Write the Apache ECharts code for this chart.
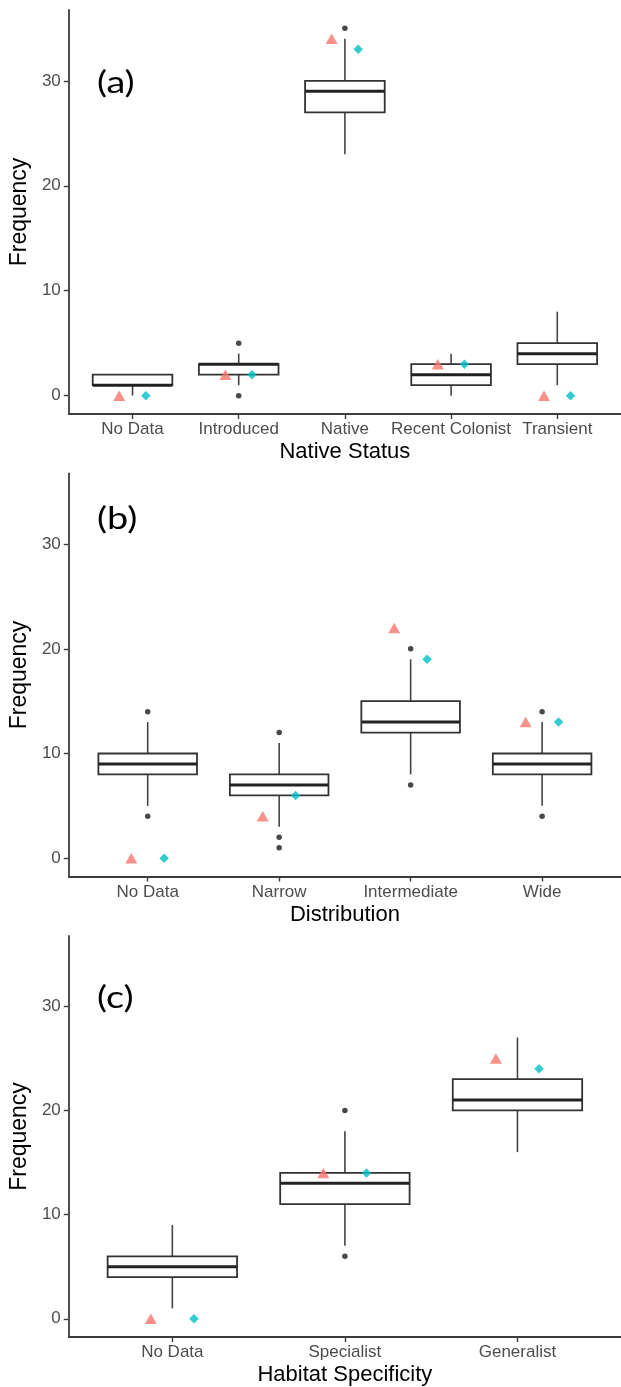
<!DOCTYPE html>
<html><head><meta charset="utf-8">
<script src="https://cdn.jsdelivr.net/npm/echarts@6/dist/echarts.min.js"></script>
<style>html,body{margin:0;padding:0;background:#fff}#c{width:621px;height:1387px}</style>
</head><body><div id="c"></div>
<script>
// Panel (a) Native Status
const catsA = ['No Data', 'Introduced', 'Native', 'Recent Colonist', 'Transient'];
const boxA = [[0, 1, 1, 2, 2], [1, 2, 3, 3, 4], [23, 27, 29, 30, 34], [0, 1, 2, 3, 4], [1, 3, 4, 5, 8]]; // min,q1,med,q3,max
const outA = [[], [5, 0], [35], [], []];
const triA = [0, 2, 34, 3, 0];
const diaA = [0, 2, 33, 3, 0];

// Panel (b) Distribution
const catsB = ['No Data', 'Narrow', 'Intermediate', 'Wide'];
const boxB = [[5, 8, 9, 10, 13], [3, 6, 7, 8, 11], [8, 12, 13, 15, 19], [5, 8, 9, 10, 13]];
const outB = [[14, 4], [12, 2, 1], [20, 7], [14, 4]];
const triB = [0, 4, 22, 13];
const diaB = [0, 6, 19, 13];

// Panel (c) Habitat Specificity
const catsC = ['No Data', 'Specialist', 'Generalist'];
const boxC = [[1, 4, 5, 6, 9], [7, 11, 13, 14, 18], [16, 20, 21, 23, 27]];
const outC = [[], [20, 6], []];
const triC = [0, 14, 25];
const diaC = [0, 14, 24];

const yTicks = [0, 10, 20, 30];
const xTitles = ['Native Status', 'Distribution', 'Habitat Specificity'];
const panelLabels = ['(a)', '(b)', '(c)'];

const panels = [
  {cats: catsA, box: boxA, out: outA, tri: triA, dia: diaA},
  {cats: catsB, box: boxB, out: outB, tri: triB, dia: diaB},
  {cats: catsC, box: boxC, out: outC, tri: triC, dia: diaC}
];

const FONT = '"Liberation Sans", Arial, sans-serif';
const AXIS_COLOR = '#3c3c3c';
const gridPos = [
  {left: 64, top: 10, width: 563.5, height: 404},
  {left: 64, top: 473.5, width: 563.5, height: 403},
  {left: 64, top: 936, width: 563.5, height: 401}
];
const labelPos = [82.5, 519, 998];
const DODGE = 0.125;

function boxRender(params, api) {
  const x = api.value(0);
  const lo = api.coord([x, api.value(1)]);
  const q1 = api.coord([x, api.value(2)]);
  const med = api.coord([x, api.value(3)]);
  const q3 = api.coord([x, api.value(4)]);
  const hi = api.coord([x, api.value(5)]);
  const hw = api.size([0.75, 0])[0] / 2;
  const cx = q1[0];
  return {type: 'group', children: [
    {type: 'line', shape: {x1: cx, y1: lo[1], x2: cx, y2: q1[1]}, style: {stroke: '#444', lineWidth: 1.6}},
    {type: 'line', shape: {x1: cx, y1: q3[1], x2: cx, y2: hi[1]}, style: {stroke: '#444', lineWidth: 1.6}},
    {type: 'rect', shape: {x: cx - hw, y: q3[1], width: 2 * hw, height: q1[1] - q3[1]}, style: {fill: '#fff', stroke: '#333', lineWidth: 1.8}},
    {type: 'line', shape: {x1: cx - hw, y1: med[1], x2: cx + hw, y2: med[1]}, style: {stroke: '#222', lineWidth: 3}}
  ]};
}

const grid = [], xAxis = [], yAxis = [], series = [], graphic = [];
panels.forEach((p, k) => {
  const n = p.cats.length;
  const idx = p.cats.map((c, i) => i + 1);
  grid.push(Object.assign({containLabel: false}, gridPos[k]));
  xAxis.push({
    type: 'value', gridIndex: k, min: 0.4, max: n + 0.6,
    axisLine: {show: true, onZero: false, lineStyle: {color: AXIS_COLOR, width: 1.8}},
    axisTick: {show: true, customValues: idx, length: 5, lineStyle: {color: AXIS_COLOR, width: 1.4}},
    axisLabel: {customValues: idx, formatter: v => p.cats[Math.round(v) - 1] || '', fontSize: 17, color: '#4D4D4D', fontFamily: FONT, margin: 7},
    splitLine: {show: false},
    name: xTitles[k], nameLocation: 'middle', nameGap: 27,
    nameTextStyle: {fontSize: 22, color: '#000', fontFamily: FONT}
  });
  yAxis.push({
    type: 'value', gridIndex: k, min: -1.75, max: 36.75,
    axisLine: {show: true, onZero: false, lineStyle: {color: AXIS_COLOR, width: 1.8}},
    axisTick: {show: true, customValues: yTicks, length: 5, lineStyle: {color: AXIS_COLOR, width: 1.4}},
    axisLabel: {customValues: yTicks, fontSize: 17, color: '#4D4D4D', fontFamily: FONT, margin: 8},
    splitLine: {show: false},
    name: 'Frequency', nameLocation: 'middle', nameGap: 28,
    nameTextStyle: {fontSize: 23, color: '#000', fontFamily: FONT}
  });
  series.push({
    type: 'custom', xAxisIndex: k, yAxisIndex: k,
    renderItem: boxRender,
    encode: {x: 0, y: [1, 2, 3, 4, 5]},
    data: p.box.map((b, i) => [i + 1].concat(b)),
    z: 2
  });
  const outPts = [];
  p.out.forEach((arr, i) => arr.forEach(v => outPts.push([i + 1, v])));
  series.push({
    type: 'scatter', xAxisIndex: k, yAxisIndex: k, symbol: 'circle', symbolSize: 5.5,
    itemStyle: {color: '#1a1a1a'}, data: outPts, z: 3
  });
  series.push({
    type: 'scatter', xAxisIndex: k, yAxisIndex: k, symbol: 'triangle', symbolSize: [12, 10.5],
    itemStyle: {color: '#F8766D'}, data: p.tri.map((v, i) => [i + 1 - DODGE, v]), z: 4
  });
  series.push({
    type: 'scatter', xAxisIndex: k, yAxisIndex: k, symbol: 'diamond', symbolSize: [9.5, 9.5],
    itemStyle: {color: '#00BFC4'}, data: p.dia.map((v, i) => [i + 1 + DODGE, v]), z: 4
  });
  graphic.push({
    type: 'text', x: 97, y: labelPos[k], scaleX: 1.22,
    style: {text: panelLabels[k], font: '31px Lato, "Open Sans", sans-serif', fill: '#000', textVerticalAlign: 'middle', verticalAlign: 'middle'}
  });
});

const chart = echarts.init(document.getElementById('c'), null, {renderer: 'canvas'});
chart.setOption({
  animation: false,
  backgroundColor: '#fff',
  grid, xAxis, yAxis, series, graphic
});
</script>
</body></html>
